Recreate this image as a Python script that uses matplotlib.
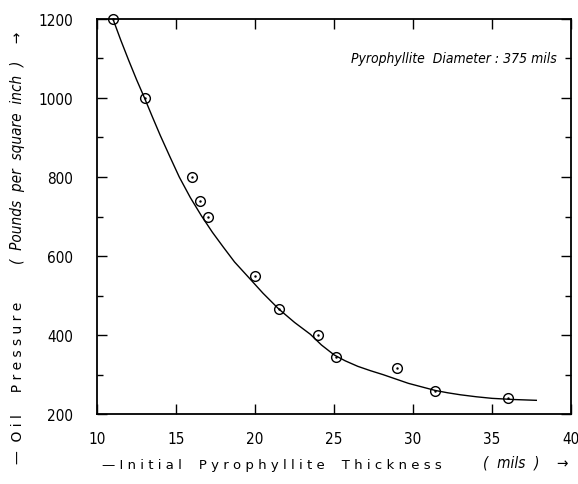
import matplotlib.pyplot as plt
from matplotlib.ticker import MultipleLocator

# measured points
thickness = [11, 13, 16, 16.5, 17, 20, 21.5, 24, 25.1, 29, 31.4, 36]
pressure = [1200, 1000, 800, 740, 700, 550, 465, 400, 345, 318, 258, 240]

# smooth curve
curve_x = [11, 11.5, 12, 12.5, 13, 13.5, 14, 14.6, 15.2, 15.9, 16.6, 17.3, 18, 18.7, 19.5,
           20.5, 21.5, 22.5, 23.5, 24.2, 25, 25.7, 26.5, 27.3, 28.1, 29.7, 31.4, 32.2, 33,
           34, 35, 36.4, 37.8]
curve_y = [1200, 1146, 1095, 1046, 1000, 952, 905, 852, 800, 748, 702, 660, 622, 585, 550,
           506, 466, 432, 402, 375, 350, 335, 321, 310, 300, 278, 260, 254, 249,
           244, 240, 237, 235]

plt.rcParams['font.family'] = ['DejaVu Sans']

fig = plt.figure(figsize=(5.78, 4.85), dpi=100)
ax = fig.add_axes([0.168, 0.144, 0.82, 0.815])

ax.plot(curve_x, curve_y, color='black', lw=1.0)
ax.plot(thickness, pressure, 'o', ms=7, mfc='none', mec='black', mew=1.0, clip_on=False)
ax.plot(thickness, pressure, '.', ms=1.5, color='black', clip_on=False)

ax.set_xlim(10, 40)
ax.set_ylim(200, 1200)
ax.xaxis.set_major_locator(MultipleLocator(5))
ax.yaxis.set_major_locator(MultipleLocator(200))
ax.yaxis.set_minor_locator(MultipleLocator(100))
ax.tick_params(which='both', direction='in', top=True, right=True, labelsize=11)
ax.tick_params(which='major', length=7, width=1)
ax.tick_params(which='minor', length=4, width=1)
ax.tick_params(axis='x', pad=12)
ax.tick_params(axis='y', pad=17)
for lab in ax.get_xticklabels() + ax.get_yticklabels():
    lab.set_fontstretch('condensed')
for s in ax.spines.values():
    s.set_linewidth(1.3)

ax.text(39.1, 1100, 'Pyrophyllite  Diameter : 375 mils', ha='right', va='center',
        style='italic', fontsize=10, fontstretch='condensed')

fig.text(0.031, 0.21, '\u2014  O i l     P r e s s u r e', rotation=90, ha='center', va='center',
         fontsize=10)
fig.text(0.031, 0.695, '(  Pounds  per  square  inch  )    \u2192', rotation=90, ha='center',
         va='center', style='italic', fontsize=11, fontstretch='condensed')
fig.text(0.47, 0.04, '\u2014 I n i t i a l    P y r o p h y l l i t e    T h i c k n e s s',
         ha='center', va='center', fontsize=9.5)
fig.text(0.91, 0.045, '(  mils  )    \u2192', ha='center', va='center', style='italic',
         fontsize=11, fontstretch='condensed')

fig.savefig('out.png', dpi=100)
